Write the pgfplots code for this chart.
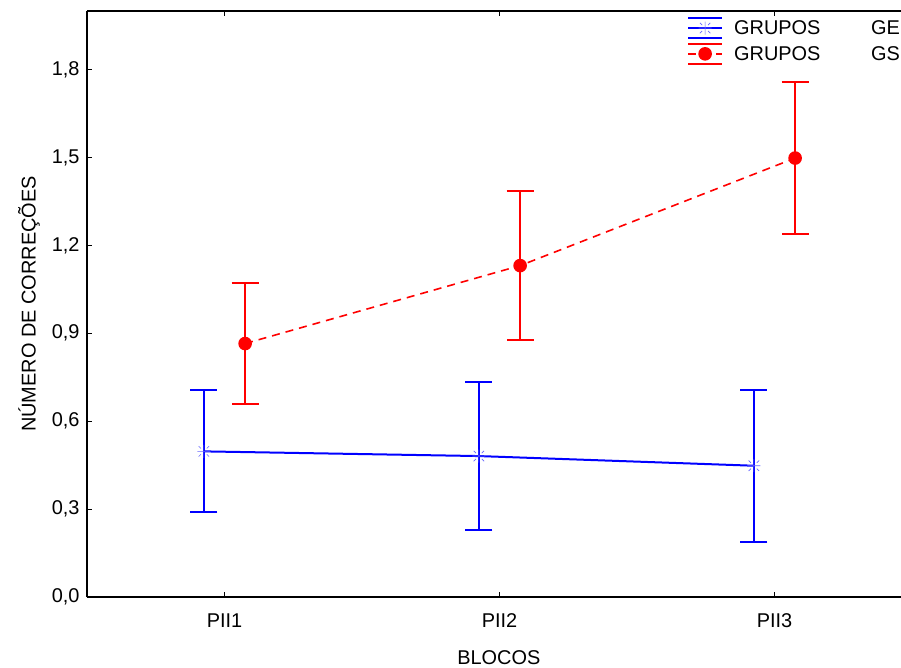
\documentclass[border=0pt]{standalone}
\usepackage{fontspec}
\setmainfont{Liberation Sans}
\usepackage{pgfplots}
\pgfplotsset{compat=1.18}
\newcommand{\chartfont}{\fontsize{20}{23}\selectfont}
% plus sign with four short diagonal strokes around the centre
\pgfdeclareplotmark{plusstar}{%
  \pgfpathmoveto{\pgfqpoint{-\pgfplotmarksize}{0pt}}%
  \pgfpathlineto{\pgfqpoint{\pgfplotmarksize}{0pt}}%
  \pgfpathmoveto{\pgfqpoint{0pt}{-\pgfplotmarksize}}%
  \pgfpathlineto{\pgfqpoint{0pt}{\pgfplotmarksize}}%
  \pgfpathmoveto{\pgfqpoint{0.45\pgfplotmarksize}{0.45\pgfplotmarksize}}%
  \pgfpathlineto{\pgfqpoint{0.8\pgfplotmarksize}{0.8\pgfplotmarksize}}%
  \pgfpathmoveto{\pgfqpoint{-0.45\pgfplotmarksize}{0.45\pgfplotmarksize}}%
  \pgfpathlineto{\pgfqpoint{-0.8\pgfplotmarksize}{0.8\pgfplotmarksize}}%
  \pgfpathmoveto{\pgfqpoint{0.45\pgfplotmarksize}{-0.45\pgfplotmarksize}}%
  \pgfpathlineto{\pgfqpoint{0.8\pgfplotmarksize}{-0.8\pgfplotmarksize}}%
  \pgfpathmoveto{\pgfqpoint{-0.45\pgfplotmarksize}{-0.45\pgfplotmarksize}}%
  \pgfpathlineto{\pgfqpoint{-0.8\pgfplotmarksize}{-0.8\pgfplotmarksize}}%
  \pgfusepathqstroke
}
\begin{document}
\begin{tikzpicture}
\useasboundingbox (-87bp,-71bp) rectangle (814bp,597bp);
\begin{axis}[
  at={(0,0)}, anchor=south west,
  scale only axis,
  width=814bp, height=586bp,
  xmin=0.5, xmax=3.46,
  ymin=0, ymax=2.0,
  axis x line*=box, axis y line*=left,
  axis line style={line width=1.6bp, black},
  every tick/.style={black, line width=1bp},
  tick align=inside,
  major tick length=5bp,
  xtick={1,2,3},
  xticklabels={PII1,PII2,PII3},
  ytick={0,0.3,0.6,0.9,1.2,1.5,1.8},
  /pgf/number format/.cd, use comma, fixed, fixed zerofill, precision=1, assume math mode=true,
  /pgfplots/.cd,
  tick label style={font=\chartfont},
  label style={font=\chartfont},
  xticklabel style={yshift=-13bp},
  yticklabel style={xshift=-4bp},
  xlabel={BLOCOS},
  ylabel={NÚMERO DE CORREÇÕES},
  xlabel style={at={(axis description cs:0.506,-0.104)}, anchor=center},
  ylabel style={at={(axis description cs:-0.0713,0.5)}, anchor=center},
  legend image code/.code={
    \draw[#1, solid] (0bp,10bp) -- (34bp,10bp);
    \draw[#1, solid] (0bp,-10bp) -- (34bp,-10bp);
    \draw[mark repeat=2, mark phase=2, #1] plot coordinates {(0bp,0bp) (17bp,0bp) (34bp,0bp)};
  },
  legend cell align=left,
  legend style={
    at={(rel axis cs:0.737,0.99)}, anchor=north west,
    draw=none, fill=none, inner sep=0pt,
    font=\chartfont,
    row sep=4bp,
    nodes={inner sep=0pt},
    /tikz/every odd column/.append style={column sep=11bp},
  },
  clip=false,
]
% GE group: means with error bars
\addplot[blue, line width=2bp,
  mark=plusstar, mark size=6.5bp, mark options={line width=0.7bp, blue!60, solid},
  error bars/.cd, y dir=both, y explicit,
  error bar style={line width=2bp, blue, solid},
  error mark options={line width=2bp, blue, mark size=13.5bp, rotate=90}]
  coordinates {
    (0.925,0.497) +- (0,0.208)
    (1.925,0.481) +- (0,0.254)
    (2.925,0.448) +- (0,0.259)
  };
\addlegendentry{\makebox[137bp][l]{GRUPOS}GE}
% GS group: means with error bars
\addplot[red, line width=1.6bp, dash pattern=on 8bp off 6bp,
  mark=*, mark size=6bp, mark options={solid, fill=red},
  error bars/.cd, y dir=both, y explicit,
  error bar style={line width=2bp, red, solid},
  error mark options={line width=2bp, red, mark size=13.5bp, rotate=90}]
  coordinates {
    (1.075,0.865) +- (0,0.207)
    (2.075,1.131) +- (0,0.254)
    (3.075,1.498) +- (0,0.258)
  };
\addlegendentry{\makebox[137bp][l]{GRUPOS}GS}
\end{axis}
\end{tikzpicture}
\end{document}
